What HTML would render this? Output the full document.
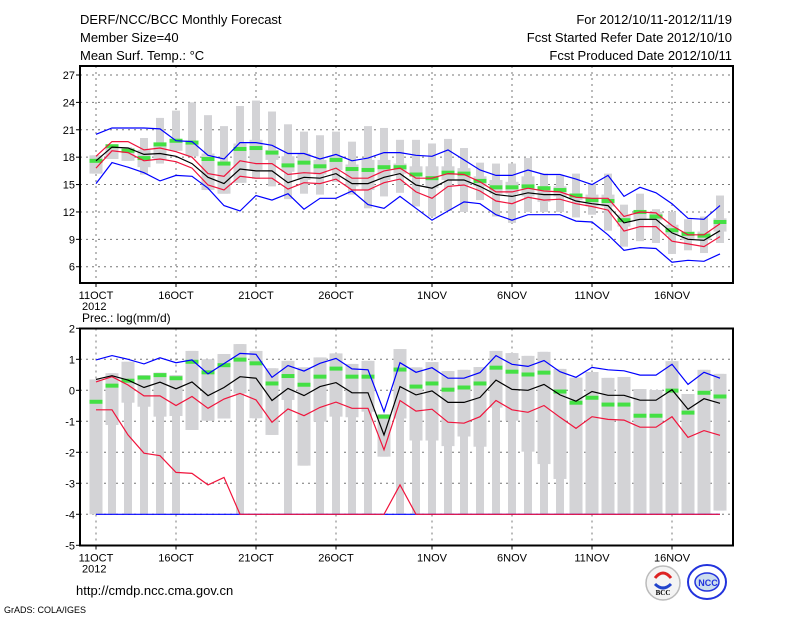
<!DOCTYPE html>
<html><head><meta charset="utf-8"><style>
html,body{margin:0;padding:0;background:#fff}
svg{display:block}
text{font-family:"Liberation Sans",sans-serif;fill:#000}
</style></head><body>
<svg id="chart" width="800" height="618" viewBox="0 0 800 618" xmlns="http://www.w3.org/2000/svg">
<rect width="800" height="618" fill="#fff"/>
<g font-size="13">
<text x="80" y="24">DERF/NCC/BCC Monthly Forecast</text>
<text x="80" y="42">Member Size=40</text>
<text x="80" y="60">Mean Surf. Temp.: °C</text>
<text x="732" y="24" text-anchor="end">For 2012/10/11-2012/11/19</text>
<text x="732" y="42" text-anchor="end">Fcst Started Refer Date 2012/10/10</text>
<text x="732" y="60" text-anchor="end">Fcst Produced Date 2012/10/11</text>
</g>
<text x="82" y="322" font-size="12">Prec.: log(mm/d)</text>
<text x="76" y="595" font-size="13">http://cmdp.ncc.cma.gov.cn</text>
<text x="4" y="613" font-size="9">GrADS: COLA/IGES</text>
<g>
<circle cx="663" cy="583" r="17" fill="#f4f4f4" stroke="#bbb" stroke-width="1.5"/>
<path d="M655 578 q8 -10 16 0" stroke="#d22" stroke-width="3" fill="none"/>
<path d="M655 584 q8 8 16 0" stroke="#24c" stroke-width="3" fill="none"/>
<text x="663" y="595" font-size="7" font-weight="bold" text-anchor="middle" style="font-family:'Liberation Serif',serif">BCC</text>
</g>
<g>
<ellipse cx="707" cy="582" rx="19" ry="17" fill="none" stroke="#23d" stroke-width="2"/>
<ellipse cx="707" cy="582" rx="12" ry="9" fill="#cde" stroke="#23d" stroke-width="1.5"/>
<text x="708" y="586" font-size="9" font-weight="bold" text-anchor="middle" fill="#23d" style="fill:#23d">NCC</text>
</g>
</svg>
<script>
// ---- data ----
const days = ["11OCT","16OCT","21OCT","26OCT","1NOV","6NOV","11NOV","16NOV"];
const dayIdx = [0,5,10,15,21,26,31,36];
const tTicks = [27,24,21,18,15,12,9,6];
const pTicks = [2,1,0,-1,-2,-3,-4,-5];

const tBlueUp = [20.5,21.2,21.2,21.2,21.1,19.8,19.7,18.2,17.8,19.6,19.6,19.3,18.4,18.4,17.8,18.3,17.6,17.9,18.5,18.5,18.2,18.1,18.8,17.7,16.6,16.0,16.0,16.6,16.1,16.1,15.6,15.0,16.0,13.7,14.7,14.1,12.9,11.3,11.2,12.7];
const tBlueLo = [15.1,17.4,16.9,16.3,15.4,16.0,15.9,14.6,12.7,12.1,13.8,13.3,14.0,12.3,13.5,13.5,14.3,12.8,12.4,13.7,12.4,11.1,12.1,13.1,12.9,11.7,11.1,11.7,11.7,11.7,11.0,10.9,9.5,7.8,8.1,8.0,6.5,6.7,6.6,7.4];
const tMean = [17.6,19.1,19.0,18.3,18.4,18.1,17.3,15.8,15.1,16.7,16.5,16.5,15.2,15.8,15.7,16.2,15.1,15.1,15.8,16.2,14.95,14.6,15.5,15.5,14.8,13.9,13.7,14.1,13.9,13.9,13.2,12.9,12.7,10.8,11.2,11.2,9.7,9.0,8.9,9.95];
const tRedUp = [18.1,19.7,19.7,18.8,19.0,18.6,18.0,16.2,15.9,17.6,17.3,17.3,16.1,16.3,16.2,16.8,15.7,15.7,16.5,16.8,15.7,15.7,16.2,16.1,15.3,14.2,14.2,14.6,14.3,14.2,13.6,13.5,13.5,11.5,12.0,11.9,10.5,9.5,9.5,10.7];
const tRedLo = [16.8,18.7,18.5,17.6,17.8,17.5,16.8,14.95,14.4,15.9,15.7,15.7,14.5,15.2,15.1,15.6,14.4,14.4,15.2,15.6,14.2,13.5,14.8,14.95,14.3,13.2,12.9,13.6,13.3,13.4,12.9,12.6,12.2,9.9,10.4,10.4,8.8,8.5,8.2,9.3];
const tGreen = [17.6,19.2,18.7,17.9,19.4,19.8,19.6,17.8,17.3,18.9,19.0,18.5,17.1,17.4,17.0,17.7,16.7,16.6,16.9,16.9,16.1,15.7,16.3,16.2,15.4,14.7,14.7,14.8,14.6,14.4,13.8,13.3,13.2,11.1,12.0,11.5,10.0,9.6,9.4,10.9];
const tMax = [18.2,19.3,19.1,20.1,22.3,23.1,24.0,22.6,21.4,23.6,24.2,23.0,21.6,20.8,20.4,20.8,19.7,21.4,21.2,19.9,19.9,19.5,20.0,19.0,17.4,17.3,17.3,17.9,16.2,16.0,16.2,15.1,16.2,12.8,14.0,12.3,12.0,11.2,11.5,13.8];
const tMin = [16.2,17.8,17.6,16.1,17.3,18.7,18.1,14.4,14.0,15.2,15.6,14.8,13.4,14.0,13.9,15.3,13.9,12.4,13.7,14.1,12.6,11.5,12.1,12.0,13.3,11.5,10.8,12.0,12.0,12.0,11.4,11.7,9.95,8.2,8.8,8.6,7.4,7.8,7.5,8.6];
const tBoxHi = [18.2,19.2,19.0,18.8,19.5,19.9,19.7,18.4,17.5,19.5,19.9,18.8,18.1,18.4,17.7,18.1,17.2,17.7,17.7,17.3,17.0,17.0,17.0,16.8,15.9,15.5,15.3,15.9,14.8,14.8,14.0,13.9,13.9,11.7,12.0,12.0,10.6,9.85,9.85,11.3];
const tBoxLo = [16.2,17.8,17.6,16.9,17.7,18.7,18.1,14.4,14.0,15.2,16.6,17.7,16.4,15.5,16.1,16.6,14.8,14.4,15.5,16.2,16.1,14.6,15.5,15.0,14.8,14.0,14.0,13.7,13.1,13.7,13.3,12.6,12.6,10.4,11.1,11.1,9.5,8.9,8.9,9.85];

const pBlueUp = [0.98,1.12,1.0,0.85,1.05,0.89,0.98,0.53,0.86,1.19,1.16,0.42,0.8,0.62,0.87,1.03,0.69,0.66,-0.69,0.89,0.58,0.73,0.39,0.39,0.57,1.12,0.84,0.77,0.96,0.6,0.42,0.74,0.66,0.63,0.49,0.49,0.84,0.19,0.58,0.39];
const pBlueLo = [-4,-4,-4,-4,-4,-4,-4,-4,-4,-4,-4,-4,-4,-4,-4,-4,-4,-4,-4,-4,-4,-4,-4,-4,-4,-4,-4,-4,-4,-4,-4,-4,-4,-4,-4,-4,-4,-4,-4,-4];
const pMean = [0.35,0.47,0.33,0.09,0.26,0.05,0.27,-0.17,0.09,0.44,0.39,-0.33,0.06,-0.17,0.12,0.25,-0.08,-0.08,-1.44,0.12,-0.15,-0.02,-0.39,-0.39,-0.23,0.33,0.03,0.0,0.19,-0.15,-0.35,-0.04,-0.16,-0.16,-0.32,-0.32,0.02,-0.61,-0.27,-0.42];
const pRedUp = [0.27,0.44,0.17,-0.18,-0.18,-0.49,-0.2,-0.58,-0.28,-0.1,-0.31,-1.03,-0.6,-0.82,-0.55,-0.38,-0.58,-0.58,-1.92,-0.33,-0.67,-0.61,-1.03,-1.06,-0.85,-0.33,-0.63,-0.71,-0.49,-0.87,-1.23,-0.85,-0.94,-0.96,-1.19,-1.19,-0.85,-1.52,-1.3,-1.45];
const pRedLo = [-0.63,-0.63,-1.44,-2.03,-2.11,-2.65,-2.68,-3.05,-2.81,-4,-4,-4,-4,-4,-4,-4,-4,-4,-4,-3.05,-4,-4,-4,-4,-4,-4,-4,-4,-4,-4,-4,-4,-4,-4,-4,-4,-4,-4,-4,-4];
const pGreen = [-0.37,0.15,0.31,0.41,0.49,0.39,0.92,0.58,0.81,0.99,0.87,0.22,0.46,0.18,0.44,0.7,0.44,0.44,-0.85,0.67,0.12,0.22,0.02,0.09,0.22,0.73,0.6,0.51,0.57,-0.04,-0.4,-0.24,-0.46,-0.46,-0.82,-0.82,-0.01,-0.72,-0.08,-0.2];
const pMax = [0.35,0.55,0.92,0.49,0.57,0.49,1.27,1.0,1.17,1.49,1.27,0.71,0.95,0.74,1.06,1.19,0.85,0.95,-0.77,1.33,0.74,0.91,0.62,0.66,0.75,1.27,1.2,1.11,1.24,0.69,0.41,0.59,0.4,0.43,0.04,0.01,0.94,-0.12,0.66,0.53];
const pMin = [-4,-4,-4,-4,-4,-4,-1.28,-0.98,-0.91,-4,-0.9,-1.44,-4,-2.43,-4,-4,-4,-4,-2.14,-4,-4,-4,-4,-4,-4,-4,-4,-4,-4,-4,-4,-4,-4,-4,-4,-4,-4,-4,-4,-3.88];
const pBoxLo = [-4,-1.12,-0.4,-0.53,-0.85,-0.83,-1.28,-0.98,-0.91,-0.1,-0.9,-1.44,-0.31,-2.43,-1.01,-0.85,-0.87,-0.69,-2.14,-0.91,-1.62,-1.62,-1.8,-1.49,-1.82,-0.56,-0.98,-1.98,-2.38,-2.86,-4,-4,-4,-4,-4,-4,-4,-4,-4,-3.88];

// ---- axes ----
const NS = "http://www.w3.org/2000/svg";
const svg = document.getElementById("chart");
const X0 = 80, X1 = 733;
const xS = i => 96 + i * 16;
const yT = v => 75 + (27 - v) * 9.13;
const yP = v => 359.3 + (1 - v) * 31;
function mk(tag, attrs, parent) {
  const e = document.createElementNS(NS, tag);
  for (const k in attrs) e.setAttribute(k, attrs[k]);
  (parent || svg).appendChild(e);
  return e;
}
function panel(name, top, bot, ticks, yf, ser) {
  const g = mk("g", {});
  
  
  // grid
  ticks.forEach(t => {
    const y = yf(t);
    if (y > top + 2 && y < bot - 2) {
      const l = mk("line", {x1: X0, x2: X1, y1: y, y2: y, stroke: "#777", "stroke-dasharray": "2,4", "stroke-width": 1}, g);
      
      
    }
    const tk = mk("line", {x1: 76, x2: X0, y1: y, y2: y, stroke: "#000"}, g);
    
    
    const tx = mk("text", {x: 75, y: y + 4, "font-size": 11, "text-anchor": "end"}, g);
    tx.textContent = t;
    
    
  });
  dayIdx.forEach((d, k) => {
    const x = xS(d);
    const l = mk("line", {x1: x, x2: x, y1: top, y2: bot, stroke: "#777", "stroke-dasharray": "2,4"}, g);
    
    
    const tk = mk("line", {x1: x, x2: x, y1: bot, y2: bot + 4, stroke: "#000"}, g);
    
    
    const tx = mk("text", {x: x, y: bot + 16, "font-size": 11, "text-anchor": "middle"}, g);
    tx.textContent = days[k];
    
    
  });
  const yr = mk("text", {x: 82, y: bot + 27, "font-size": 11}, g);
  yr.textContent = "2012";
  
  
  // bars
  ser.max.forEach((mx, i) => {
    const x = xS(i);
    const b = mk("rect", {x: x - 4, y: yf(mx), width: 8, height: Math.max(1, yf(ser.min[i]) - yf(mx)), fill: "#d3d3d6"}, g);
    
    
    const bx = mk("rect", {x: x - 6.5, y: yf(ser.boxHi[i]), width: 13, height: Math.max(1, yf(ser.boxLo[i]) - yf(ser.boxHi[i])), fill: "#d3d3d6"}, g);
    
    
  });
  ser.green.forEach((v, i) => {
    const r = mk("rect", {x: xS(i) - 6.5, y: yf(v) - 2, width: 13, height: 4, fill: "#44e044"}, g);
    
    
  });
  const lines = [[ser.blueLo, "#0000ff", "lower-bound-line"], [ser.blueUp, "#0000ff", "upper-bound-line"],
    [ser.redUp, "#f0143c", "upper-std-line"], [ser.redLo, "#f0143c", "lower-std-line"], [ser.mean, "#000", "ensemble-mean-line"]];
  lines.forEach(([arr, c, nm]) => {
    const p = mk("polyline", {points: arr.map((v, i) => xS(i) + "," + yf(v).toFixed(1)).join(" "), fill: "none", stroke: c, "stroke-width": 1.2}, g);
    
    
  });
  const f = mk("rect", {x: X0, y: top, width: X1 - X0, height: bot - top, fill: "none", stroke: "#000", "stroke-width": 2}, g);
  
  
}
panel("temperature-panel", 66, 283, tTicks, yT, {max: tMax, min: tMin, boxHi: tBoxHi, boxLo: tBoxLo, green: tGreen, blueUp: tBlueUp, blueLo: tBlueLo, redUp: tRedUp, redLo: tRedLo, mean: tMean});
panel("precipitation-panel", 328.5, 545.5, pTicks, yP, {max: pMax, min: pMin, boxHi: pMax, boxLo: pBoxLo, green: pGreen, blueUp: pBlueUp, blueLo: pBlueLo, redUp: pRedUp, redLo: pRedLo, mean: pMean});
</script>
</body></html>
